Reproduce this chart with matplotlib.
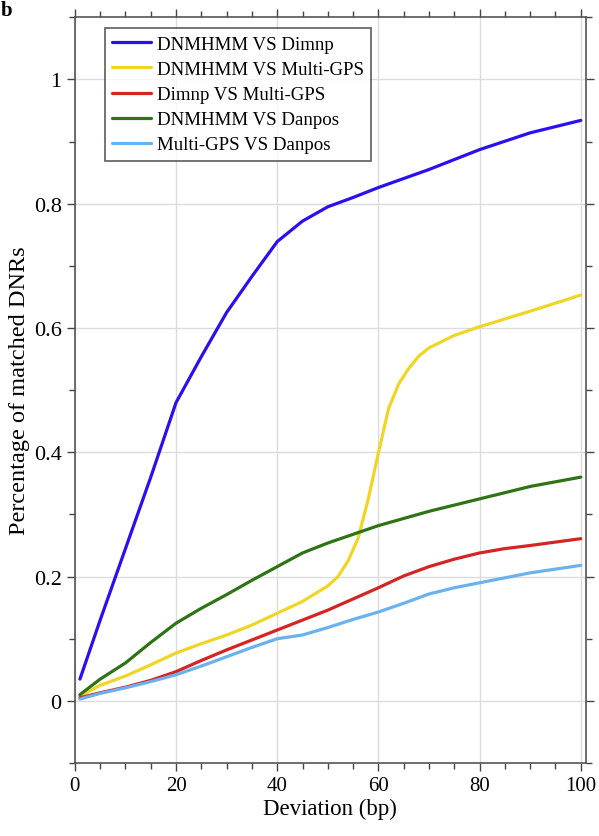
import matplotlib
matplotlib.use("Agg")
import matplotlib.pyplot as plt
from matplotlib.ticker import MultipleLocator

plt.rcParams['font.family'] = ['Liberation Serif', 'DejaVu Serif']

# Data
x_blue = [1, 5, 10, 15, 20, 25, 30, 35, 40, 45, 50, 55, 60, 70, 80, 90, 100]
y_blue = [0.035, 0.13, 0.245, 0.36, 0.48, 0.554, 0.625, 0.683, 0.739, 0.772, 0.795, 0.81, 0.826, 0.855, 0.887, 0.914, 0.934]

x_yellow = [1, 5, 10, 15, 20, 25, 30, 35, 40, 45, 50, 52, 54, 56, 58, 60, 62, 64, 66, 68, 70, 75, 80, 90, 100]
y_yellow = [0.008, 0.025, 0.04, 0.058, 0.077, 0.092, 0.106, 0.122, 0.141, 0.16, 0.185, 0.2, 0.225, 0.262, 0.325, 0.399, 0.47, 0.51, 0.535, 0.555, 0.568, 0.588, 0.602, 0.627, 0.653]

x_red = [1, 5, 10, 15, 20, 25, 30, 35, 40, 45, 50, 55, 60, 65, 70, 75, 80, 85, 90, 100]
y_red = [0.005, 0.013, 0.022, 0.033, 0.047, 0.065, 0.082, 0.098, 0.114, 0.13, 0.146, 0.164, 0.182, 0.201, 0.216, 0.228, 0.238, 0.245, 0.25, 0.261]

x_green = [1, 5, 10, 15, 20, 25, 30, 35, 40, 45, 50, 60, 70, 80, 90, 100]
y_green = [0.01, 0.035, 0.061, 0.094, 0.125, 0.149, 0.171, 0.194, 0.216, 0.238, 0.254, 0.282, 0.305, 0.325, 0.345, 0.36]

x_lblue = [1, 5, 10, 15, 20, 25, 30, 35, 40, 45, 50, 55, 60, 65, 70, 75, 80, 90, 100]
y_lblue = [0.003, 0.012, 0.021, 0.031, 0.042, 0.056, 0.071, 0.086, 0.1, 0.106, 0.118, 0.131, 0.143, 0.157, 0.172, 0.182, 0.19, 0.206, 0.218]

labels = ["DNMHMM VS Dimnp", "DNMHMM VS Multi-GPS", "Dimnp VS Multi-GPS",
          "DNMHMM VS Danpos", "Multi-GPS VS Danpos"]
colors = ["#2a10f0", "#f0d624", "#d42424", "#2f7414", "#6ab2ee"]

fig = plt.figure(figsize=(5.99, 8.37), dpi=100)
ax = fig.add_axes([0.125, 0.0872, 0.853, 0.891])

series = [(x_blue, y_blue), (x_yellow, y_yellow), (x_red, y_red),
          (x_green, y_green), (x_lblue, y_lblue)]
for (xs, ys), lab, c in zip(series, labels, colors):
    ax.plot(xs, ys, color=c, lw=2.3, label=lab, solid_capstyle='round')

ax.set_xlim(0, 101)
ax.set_ylim(-0.1, 1.1)
ax.xaxis.set_major_locator(MultipleLocator(20))
ax.xaxis.set_minor_locator(MultipleLocator(5))
ax.yaxis.set_major_locator(MultipleLocator(0.2))
ax.yaxis.set_minor_locator(MultipleLocator(0.1))
ax.set_yticks([0, 0.2, 0.4, 0.6, 0.8, 1.0])
ax.set_yticklabels(['0', '0.2', '0.4', '0.6', '0.8', '1'])
ax.grid(True, which='major', color='#dcdcdc', lw=1)
ax.set_axisbelow(True)
ax.tick_params(which='both', direction='out', top=True, right=True,
               labeltop=False, labelright=False, color='#444444')
ax.tick_params(which='major', length=6, width=1)
ax.tick_params(axis='y', which='major', labelsize=16)
ax.tick_params(axis='x', which='major', labelsize=15)
ax.tick_params(which='minor', length=4, width=1)
for s in ax.spines.values():
    s.set_color('#555555')
    s.set_linewidth(1.2)

ax.set_xlabel('Deviation (bp)', fontsize=16.5, labelpad=2)
ax.set_ylabel('Percentage of matched DNRs', fontsize=17.5, labelpad=3)

leg = ax.legend(loc='upper left', bbox_to_anchor=(0.059, 0.985), fontsize=13.6,
                frameon=True, fancybox=False, edgecolor='#333333',
                handlelength=2.05, handletextpad=0.3, labelspacing=0.42,
                borderpad=0.38, borderaxespad=0)
leg.get_frame().set_linewidth(1.2)

fig.text(0.002, 0.999, 'b', fontsize=15, fontweight='bold', va='top', ha='left')

fig.savefig('out.png', dpi=100)
